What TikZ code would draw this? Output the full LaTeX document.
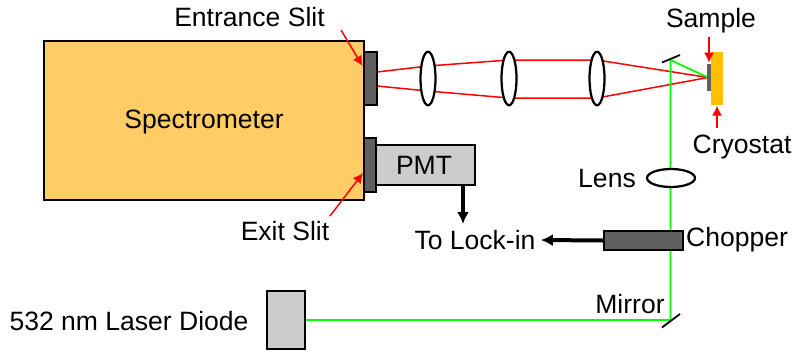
\documentclass[tikz,border=0pt]{standalone}
\usepackage{fontspec}
\setmainfont{Liberation Sans}
\usetikzlibrary{arrows.meta,calc,shapes.geometric}
\definecolor{specorange}{HTML}{FFCC66}
\definecolor{cryoorange}{HTML}{FFC000}
\definecolor{slitgray}{HTML}{606060}
\definecolor{boxgray}{HTML}{CCCCCC}
\definecolor{beamgreen}{HTML}{00FF00}
\tikzset{>=latex}
\tikzset{
    block/.style = {draw, rectangle, line width=0.04cm, inner sep=0pt},
    slit/.style = {block, fill=slitgray, minimum width=0.25cm, minimum height=1.07cm},
    lens/.style = {draw, ellipse, fill=white, line width=0.045cm, inner sep=0pt,
        minimum width=0.3cm, minimum height=1.07cm},
    label/.style = {inner sep=0pt, font=\fontsize{15.1}{18}\selectfont},
    redbeam/.style = {draw, red, line width=0.03cm},
    greenbeam/.style = {draw, beamgreen, line width=0.035cm},
    redarrow/.style = {draw, red, -{Latex[length=0.2cm,width=0.2cm]}, line width=0.03cm},
    thickarrow/.style = {draw, -{Latex[length=0.24cm,width=0.24cm]}, line width=0.08cm},
    mirror/.style = {draw, line width=0.035cm}
}
\begin{document}
\begin{tikzpicture}[auto, x=0.02cm, y=-0.02cm]
    \useasboundingbox (0,0) rectangle (793,352);
    % beam points
    \coordinate (slitup) at (377,72);
    \coordinate (slitdown) at (377,86);
    \coordinate (lensaup) at (428,66);
    \coordinate (lensadown) at (428,91);
    \coordinate (lensbup) at (509,60);
    \coordinate (lensbdown) at (509,98);
    \coordinate (lenscup) at (597,60);
    \coordinate (lenscdown) at (597,98);
    \coordinate (spot) at (708,77.5);
    \coordinate (mirrortop) at (670.5,60);
    \coordinate (mirrorbottom) at (670.5,320);
    % red beam
    \draw [redbeam] (slitup) -- (lensaup) -- (lensbup) -- (lenscup) -- (spot);
    \draw [redbeam] (slitdown) -- (lensadown) -- (lensbdown) -- (lenscdown) -- (spot);
    % green beam
    \draw [greenbeam] (305,320) -- (mirrorbottom) -- (mirrortop) -- (spot);
    % boxes
    \node [block, fill=specorange, minimum width=6.4cm, minimum height=3.18cm] (spectrometer) at (204,120.5) {};
    \node [label] (speclabel) at (204,122) {Spectrometer};
    \node [slit] (entrance) at (370.5,78.5) {};
    \node [slit, minimum height=1.08cm] (exit) at (370,165) {};
    \node [block, fill=boxgray, minimum width=1.98cm, minimum height=0.8cm] (pmt) at (425.5,165) {};
    \node [label] (pmtlabel) at (424,165) {PMT};
    \node [lens] (lensa) at (428,78.5) {};
    \node [lens] (lensb) at (509,78.5) {};
    \node [lens] (lensc) at (597,78.5) {};
    \node [lens, minimum width=0.96cm, minimum height=0.36cm] (lensd) at (671,178) {};
    \node [block, fill=slitgray, minimum width=1.58cm, minimum height=0.38cm] (chopper) at (643.5,240.5) {};
    \node [block, fill=boxgray, minimum width=0.76cm, minimum height=1.16cm] (laser) at (286,320) {};
    % sample and cryostat
    \node [rectangle, fill=cryoorange, inner sep=0pt, minimum width=0.24cm, minimum height=1.07cm] (cryostat) at (717,78.5) {};
    \node [rectangle, fill=slitgray, inner sep=0pt, minimum width=0.07cm, minimum height=0.54cm] (sample) at (709,77.5) {};
    % mirrors
    \draw [mirror] (662,62.5) -- (680,55);
    \draw [mirror] (662,327.5) -- (680,314);
    % labels
    \node [label] (entrancelabel) at (249.5,17) {Entrance Slit};
    \node [label] (samplelabel) at (711,21) {Sample};
    \node [label] (cryolabel) at (742,147) {Cryostat};
    \node [label] (lenslabel) at (607,178) {Lens};
    \node [label] (exitlabel) at (285,231) {Exit Slit};
    \node [label] (lockin) at (475,240) {To Lock-in};
    \node [label] (chopperlabel) at (737,240) {Chopper};
    \node [label] (mirrorlabel) at (630,304) {Mirror};
    \node [label] (laserlabel) at (129,321) {532 nm Laser Diode};
    % arrows
    \draw [redarrow] (341,30) -- (362.5,66);
    \draw [redarrow] (samplelabel.south -| sample) ++(0,3) -- ([yshift=0.02cm]sample.north);
    \draw [redarrow] (717,128) -- (cryostat.south);
    \draw [redarrow] (330,216) -- (363,173);
    \draw [thickarrow] (463,185) -- (463,224);
    \draw [thickarrow] (chopper.west) -- ([xshift=0.1cm]lockin.east);
\end{tikzpicture}
\end{document}
